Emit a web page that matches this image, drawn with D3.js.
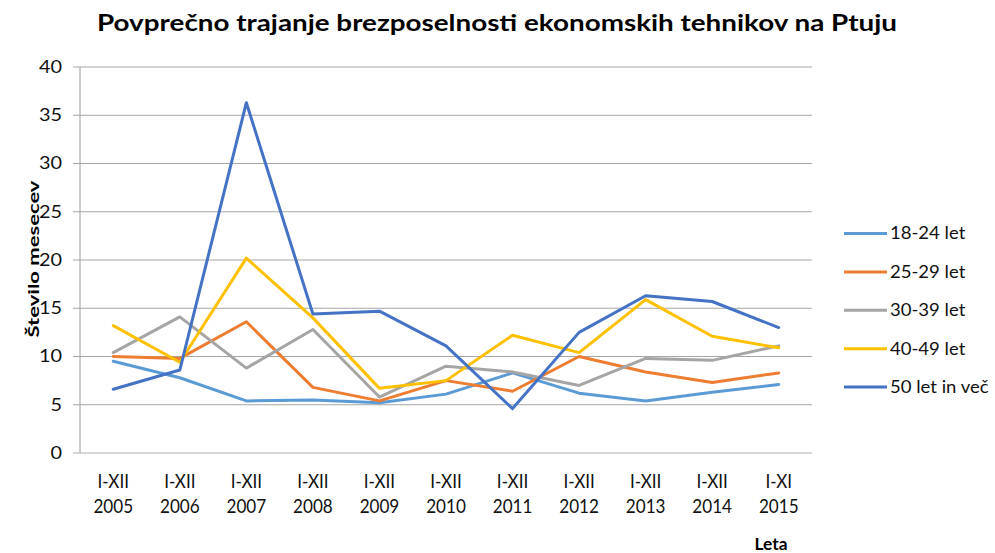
<!DOCTYPE html>
<html><head><meta charset="utf-8">
<script src="https://cdn.jsdelivr.net/npm/d3@7"></script>
<style>body{margin:0;background:#fff}</style>
</head><body>
<svg id="c" width="995" height="553"></svg>
<script>
const categories = ["I-XII 2005","I-XII 2006","I-XII 2007","I-XII 2008","I-XII 2009","I-XII 2010","I-XII 2011","I-XII 2012","I-XII 2013","I-XII 2014","I-XI 2015"];
const s18_24 = [9.5,7.8,5.4,5.5,5.2,6.1,8.3,6.2,5.4,6.3,7.1];
const s25_29 = [10.0,9.8,13.6,6.8,5.4,7.5,6.4,10.0,8.4,7.3,8.3];
const s30_39 = [10.4,14.1,8.8,12.8,5.8,9.0,8.4,7.0,9.8,9.6,11.1];
const s40_49 = [13.2,9.4,20.2,14.0,6.7,7.5,12.2,10.4,15.9,12.1,10.9];
const s50 = [6.6,8.6,36.3,14.4,14.7,11.1,4.6,12.5,16.3,15.7,13.0];
const seriesNames = ["18-24 let","25-29 let","30-39 let","40-49 let","50 let in več"];
const seriesColors = ["#5B9BD5","#ED7D31","#A5A5A5","#FFC000","#4472C4"];
const yTicks = [0,5,10,15,20,25,30,35,40];
const title = "Povprečno trajanje  brezposelnosti ekonomskih tehnikov na Ptuju";
const yTitle = "Število mesecev";
const xTitle = "Leta";

const series = [s18_24,s25_29,s30_39,s40_49,s50];
const svg = d3.select("#c");
const L=80,R=812,T=67,B=453;
const x = d3.scaleBand().domain(categories).range([L,R]);
const y = d3.scaleLinear().domain([0,40]).range([B,T]);
const font = "Lato, 'Open Sans', sans-serif";

// gridlines
svg.append("g").selectAll("line").data(yTicks).join("line")
  .attr("x1",L-7).attr("x2",R).attr("y1",d=>y(d)).attr("y2",d=>y(d))
  .attr("stroke",d=>d===0?"#b0b0b0":"#a6a6a6").attr("stroke-width",1);
svg.append("line").attr("x1",L).attr("x2",L).attr("y1",T).attr("y2",B).attr("stroke","#9a9a9a");

// y labels
svg.append("g").selectAll("text").data(yTicks).join("text")
  .attr("transform",d=>`translate(62,${y(d)}) scale(1.17,1)`)
  .attr("dy","0.35em").attr("text-anchor","end")
  .attr("font-family",font).attr("font-size",17).attr("fill","#111").text(d=>d);

// x labels
const xl = svg.append("g").selectAll("text").data(categories).join("text")
  .attr("font-family",font).attr("font-size",19).attr("fill","#111").attr("text-anchor","middle")
  .attr("transform",d=>`translate(${x(d)+x.bandwidth()/2},0) scale(0.9,1)`);
xl.append("tspan").attr("x",0).attr("y",488).text(d=>d.split(" ")[0]);
xl.append("tspan").attr("x",0).attr("y",513).text(d=>d.split(" ")[1]);

// lines
const line = d3.line().x((d,i)=>x(categories[i])+x.bandwidth()/2).y(d=>y(d));
svg.append("g").selectAll("path").data(series).join("path")
  .attr("d",line).attr("fill","none").attr("stroke",(d,i)=>seriesColors[i])
  .attr("stroke-width",3).attr("stroke-linejoin","round").attr("stroke-linecap","round");

// title
svg.append("text").attr("x",497).attr("y",31).attr("text-anchor","middle")
  .attr("font-family",font).attr("font-weight","bold").attr("font-size",22).attr("fill","#000")
  .attr("textLength",800).attr("lengthAdjust","spacingAndGlyphs").text(title);

// y title
svg.append("text").attr("transform","translate(39,259) rotate(-90)").attr("text-anchor","middle")
  .attr("font-family",font).attr("font-weight","bold").attr("font-size",15).attr("fill","#000")
  .attr("textLength",157).attr("lengthAdjust","spacingAndGlyphs").text(yTitle);

// x title
svg.append("text").attr("x",771).attr("y",550).attr("text-anchor","middle")
  .attr("font-family",font).attr("font-weight","bold").attr("font-size",17).attr("fill","#000")
  .attr("textLength",33).attr("lengthAdjust","spacingAndGlyphs").text(xTitle);

// legend
const lg = svg.append("g").selectAll("g").data(seriesNames).join("g")
  .attr("transform",(d,i)=>`translate(844,${233.5+i*38.4})`);
lg.append("line").attr("x1",0).attr("x2",43).attr("stroke",(d,i)=>seriesColors[i]).attr("stroke-width",3);
lg.append("text").attr("transform","translate(46,0) scale(1.09,1)").attr("dy","0.35em")
  .attr("font-family",font).attr("font-size",17).attr("fill","#111").text(d=>d);
</script>
</body></html>
